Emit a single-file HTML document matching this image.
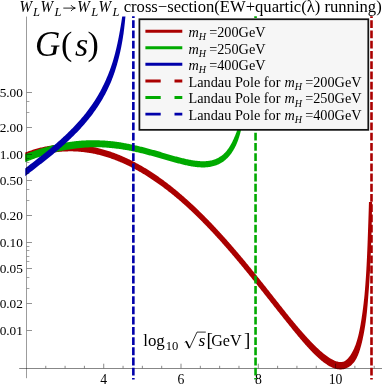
<!DOCTYPE html>
<html><head><meta charset="utf-8"><title>plot</title><style>
html,body{margin:0;padding:0;background:#fff;}
body{width:383px;height:388px;overflow:hidden;}
svg{display:block;}
</style></head><body>
<svg width="383" height="388" viewBox="0 0 383 388" style="position:absolute;left:0;top:0">
<rect width="383" height="388" fill="#fff"/>
<defs><filter id="gs" x="0" y="0" width="100%" height="100%" filterUnits="userSpaceOnUse" color-interpolation-filters="sRGB"><feColorMatrix type="saturate" values="0"/></filter><clipPath id="pc"><rect x="25.25" y="16.5" width="360" height="375"/></clipPath></defs>
<g clip-path="url(#pc)">
<path d="M19.54,162.86 L20.34,162.48 L21.14,162.12 L21.93,161.76 L22.73,161.41 L23.53,161.06 L24.34,160.71 L25.14,160.38 L25.95,160.04 L26.76,159.72 L27.57,159.40 L28.39,159.08 L29.20,158.77 L30.02,158.47 L30.84,158.17 L31.66,157.88 L32.49,157.59 L33.31,157.31 L34.14,157.04 L34.97,156.77 L35.80,156.51 L36.64,156.25 L37.47,156.00 L38.31,155.76 L39.15,155.52 L39.99,155.29 L40.83,155.07 L41.68,154.85 L42.52,154.64 L43.37,154.44 L44.22,154.24 L45.07,154.05 L45.92,153.86 L46.77,153.68 L47.63,153.51 L48.48,153.35 L49.34,153.19 L50.20,153.04 L51.06,152.89 L51.92,152.75 L52.78,152.62 L53.64,152.49 L54.50,152.38 L55.37,152.27 L56.23,152.16 L57.10,152.06 L57.97,151.97 L58.83,151.89 L59.70,151.81 L60.57,151.74 L61.44,151.68 L62.31,151.62 L63.18,151.57 L64.05,151.52 L64.92,151.48 L65.79,151.44 L66.66,151.41 L67.53,151.38 L68.41,151.36 L69.28,151.35 L70.15,151.34 L71.03,151.35 L71.90,151.35 L72.77,151.37 L73.65,151.39 L74.52,151.42 L75.39,151.45 L76.26,151.49 L77.14,151.54 L78.01,151.60 L78.88,151.66 L79.76,151.73 L80.63,151.80 L81.50,151.88 L82.37,151.97 L83.24,152.06 L84.11,152.16 L84.98,152.27 L85.85,152.38 L86.72,152.50 L87.59,152.63 L88.45,152.76 L89.32,152.90 L90.18,153.04 L91.05,153.19 L91.91,153.35 L92.78,153.51 L93.64,153.68 L94.50,153.86 L95.36,154.04 L96.22,154.24 L97.07,154.43 L97.93,154.64 L98.78,154.85 L99.63,155.06 L100.49,155.28 L101.34,155.51 L102.19,155.74 L103.03,155.98 L103.88,156.22 L104.72,156.47 L105.57,156.72 L106.41,156.98 L107.25,157.25 L108.09,157.52 L108.93,157.79 L109.76,158.07 L110.60,158.36 L111.43,158.65 L112.26,158.94 L113.09,159.24 L113.92,159.55 L114.75,159.86 L115.57,160.17 L116.40,160.49 L117.22,160.82 L118.04,161.15 L118.86,161.48 L119.68,161.82 L120.49,162.16 L121.30,162.51 L122.12,162.86 L122.93,163.22 L123.73,163.58 L124.54,163.94 L125.35,164.31 L126.15,164.68 L126.95,165.06 L127.75,165.44 L128.55,165.83 L129.34,166.22 L130.14,166.61 L130.93,167.01 L131.72,167.41 L132.51,167.82 L133.29,168.23 L134.08,168.64 L134.86,169.06 L135.64,169.49 L136.42,169.91 L137.19,170.34 L137.97,170.78 L138.74,171.21 L139.51,171.65 L140.28,172.10 L141.05,172.54 L141.81,173.00 L142.58,173.45 L143.34,173.91 L144.10,174.37 L144.86,174.83 L145.62,175.30 L146.37,175.77 L147.12,176.24 L147.87,176.72 L148.62,177.20 L149.37,177.68 L150.12,178.16 L150.86,178.65 L151.61,179.14 L152.35,179.63 L153.09,180.13 L153.82,180.63 L154.56,181.13 L155.29,181.63 L156.03,182.14 L156.76,182.65 L157.49,183.16 L158.21,183.68 L158.94,184.19 L159.66,184.71 L160.38,185.24 L161.11,185.76 L161.82,186.29 L162.54,186.82 L163.26,187.35 L163.97,187.89 L164.68,188.42 L165.39,188.96 L166.10,189.50 L166.81,190.05 L167.51,190.60 L168.22,191.14 L168.92,191.69 L169.62,192.25 L170.32,192.80 L171.02,193.36 L171.71,193.92 L172.41,194.48 L173.10,195.04 L173.79,195.61 L174.48,196.18 L175.17,196.75 L175.86,197.32 L176.54,197.89 L177.22,198.47 L177.91,199.04 L178.59,199.62 L179.27,200.20 L179.94,200.79 L180.62,201.37 L181.29,201.96 L181.97,202.55 L182.64,203.14 L183.31,203.73 L183.98,204.32 L184.64,204.92 L185.31,205.52 L185.97,206.12 L186.63,206.72 L187.29,207.33 L187.95,207.93 L188.61,208.54 L189.26,209.15 L189.92,209.76 L190.57,210.37 L191.22,210.98 L191.87,211.59 L192.52,212.21 L193.17,212.83 L193.82,213.45 L194.46,214.07 L195.11,214.69 L195.75,215.31 L196.39,215.93 L197.03,216.56 L197.67,217.19 L198.31,217.82 L198.95,218.45 L199.58,219.08 L200.22,219.71 L200.85,220.34 L201.48,220.98 L202.11,221.61 L202.74,222.25 L203.37,222.89 L204.00,223.53 L204.62,224.17 L205.25,224.81 L205.87,225.45 L206.50,226.10 L207.12,226.74 L207.74,227.39 L208.36,228.04 L208.98,228.68 L209.59,229.33 L210.21,229.98 L210.83,230.64 L211.44,231.29 L212.05,231.94 L212.67,232.60 L213.28,233.25 L213.89,233.91 L214.50,234.57 L215.10,235.23 L215.71,235.89 L216.32,236.55 L216.92,237.21 L217.52,237.88 L218.13,238.54 L218.73,239.20 L219.33,239.87 L219.93,240.54 L220.53,241.20 L221.13,241.87 L221.72,242.54 L222.32,243.21 L222.92,243.88 L223.51,244.55 L224.10,245.23 L224.70,245.90 L225.29,246.57 L225.88,247.25 L226.47,247.92 L227.06,248.60 L227.65,249.28 L228.24,249.96 L228.83,250.63 L229.41,251.31 L230.00,251.99 L230.58,252.67 L231.17,253.35 L231.75,254.04 L232.33,254.72 L232.92,255.40 L233.50,256.09 L234.08,256.77 L234.66,257.46 L235.24,258.14 L235.82,258.83 L236.40,259.52 L236.97,260.20 L237.55,260.89 L238.13,261.58 L238.70,262.27 L239.28,262.96 L239.85,263.65 L240.42,264.34 L241.00,265.03 L241.57,265.72 L242.14,266.42 L242.71,267.11 L243.28,267.80 L243.86,268.50 L244.42,269.19 L244.99,269.89 L245.56,270.58 L246.13,271.28 L246.70,271.97 L247.27,272.67 L247.83,273.37 L248.40,274.06 L248.97,274.76 L249.53,275.46 L250.10,276.16 L250.66,276.86 L251.23,277.56 L251.79,278.26 L252.35,278.96 L252.92,279.66 L253.48,280.36 L254.04,281.06 L254.60,281.76 L255.17,282.46 L255.73,283.17 L256.29,283.87 L256.85,284.57 L257.41,285.27 L257.97,285.98 L258.53,286.68 L259.09,287.38 L259.65,288.09 L260.21,288.79 L260.77,289.50 L261.33,290.20 L261.89,290.90 L262.45,291.61 L263.00,292.31 L263.56,293.02 L264.12,293.73 L264.68,294.43 L265.24,295.14 L265.79,295.84 L266.35,296.55 L266.91,297.25 L267.47,297.96 L268.02,298.67 L268.58,299.37 L269.14,300.08 L269.70,300.79 L270.26,301.49 L270.81,302.20 L271.37,302.91 L271.93,303.61 L272.49,304.32 L273.04,305.02 L273.60,305.73 L274.16,306.44 L274.72,307.14 L275.28,307.85 L275.84,308.56 L276.40,309.26 L276.96,309.97 L277.51,310.67 L278.07,311.38 L278.63,312.09 L279.20,312.79 L279.76,313.50 L280.32,314.20 L280.88,314.91 L281.44,315.61 L282.00,316.31 L282.57,317.02 L283.13,317.72 L283.69,318.42 L284.26,319.13 L284.82,319.83 L285.39,320.53 L285.95,321.23 L286.52,321.94 L287.09,322.64 L287.66,323.34 L288.22,324.04 L288.78,324.75 L289.34,325.45 L289.91,326.16 L290.47,326.86 L291.04,327.57 L291.60,328.27 L292.17,328.97 L292.74,329.68 L293.31,330.38 L293.88,331.08 L294.45,331.78 L295.02,332.48 L295.60,333.18 L296.17,333.87 L296.75,334.57 L297.32,335.27 L297.90,335.96 L298.49,336.66 L299.07,337.35 L299.65,338.04 L300.24,338.73 L300.83,339.42 L301.42,340.11 L302.01,340.80 L302.60,341.48 L303.20,342.17 L303.79,342.85 L304.39,343.53 L304.99,344.22 L305.59,344.90 L306.20,345.57 L306.81,346.25 L307.42,346.92 L308.03,347.60 L308.65,348.27 L309.27,348.94 L309.90,349.60 L310.52,350.26 L311.15,350.92 L311.79,351.58 L312.43,352.24 L313.07,352.89 L313.72,353.54 L314.37,354.19 L315.03,354.83 L315.70,355.47 L316.36,356.10 L317.04,356.73 L317.72,357.36 L318.41,357.98 L319.10,358.59 L319.80,359.21 L320.51,359.81 L321.23,360.41 L321.96,361.00 L322.69,361.58 L323.44,362.16 L324.20,362.73 L324.97,363.29 L325.75,363.84 L326.55,364.37 L327.36,364.90 L328.18,365.41 L329.03,365.90 L329.89,366.38 L330.77,366.84 L331.68,367.28 L332.61,367.69 L333.56,368.08 L334.55,368.42 L335.56,368.71 L336.61,368.96 L337.68,369.17 L338.78,369.31 L339.90,369.39 L341.05,369.40 L342.21,369.32 L343.37,369.15 L344.53,368.89 L345.67,368.54 L346.78,368.10 L347.84,367.58 L348.86,366.99 L349.82,366.34 L350.72,365.64 L351.57,364.90 L352.37,364.12 L353.11,363.32 L353.86,362.54 L354.49,361.67 L355.07,360.80 L355.62,359.92 L356.13,359.03 L356.61,358.13 L357.06,357.23 L357.48,356.32 L357.88,355.42 L358.26,354.51 L358.62,353.60 L358.95,352.69 L359.28,351.77 L359.58,350.86 L359.87,349.95 L360.15,349.03 L360.41,348.12 L360.67,347.20 L360.91,346.29 L361.16,345.38 L361.40,344.47 L361.64,343.56 L361.87,342.65 L362.09,341.74 L362.30,340.83 L362.50,339.92 L362.70,339.01 L362.89,338.10 L363.07,337.19 L363.26,336.29 L363.45,335.38 L363.63,334.47 L363.81,333.56 L363.98,332.66 L364.15,331.75 L364.31,330.84 L364.47,329.93 L364.63,329.02 L364.78,328.12 L364.93,327.21 L365.07,326.30 L365.21,325.39 L365.35,324.48 L365.48,323.57 L365.61,322.67 L365.74,321.76 L365.86,320.85 L365.99,319.94 L366.10,319.03 L366.22,318.12 L366.33,317.21 L366.44,316.30 L366.55,315.40 L366.65,314.49 L366.75,313.58 L366.85,312.67 L366.94,311.76 L367.03,310.85 L367.13,309.94 L367.21,309.03 L367.30,308.12 L367.39,307.21 L367.47,306.31 L367.55,305.40 L367.63,304.49 L367.71,303.58 L367.78,302.67 L367.86,301.76 L367.93,300.85 L368.00,299.94 L368.07,299.04 L368.14,298.13 L368.21,297.22 L368.27,296.31 L368.35,295.40 L368.42,294.50 L368.49,293.59 L368.56,292.68 L368.63,291.77 L368.70,290.87 L368.77,289.96 L368.84,289.05 L368.90,288.14 L368.97,287.24 L369.03,286.33 L369.09,285.42 L369.15,284.51 L369.21,283.61 L369.27,282.70 L369.33,281.79 L369.39,280.89 L369.44,279.98 L369.50,279.07 L369.55,278.16 L369.61,277.26 L369.66,276.35 L369.71,275.44 L369.76,274.54 L369.81,273.63 L369.86,272.72 L369.91,271.81 L369.96,270.91 L370.01,270.00 L370.06,269.09 L370.11,268.19 L370.15,267.28 L370.20,266.37 L370.25,265.47 L370.29,264.56 L370.33,263.65 L370.38,262.75 L370.42,261.84 L370.46,260.93 L370.51,260.03 L370.55,259.12 L370.59,258.21 L370.63,257.31 L370.67,256.40 L370.71,255.49 L370.75,254.59 L370.78,253.68 L370.82,252.77 L370.86,251.87 L370.89,250.96 L370.93,250.05 L370.97,249.15 L371.00,248.24 L371.03,247.34 L371.07,246.43 L371.10,245.52 L371.13,244.62 L371.17,243.71 L371.20,242.80 L371.23,241.90 L371.26,240.99 L371.29,240.09 L371.32,239.18 L371.35,238.27 L371.38,237.37 L371.41,236.46 L371.44,235.56 L371.47,234.65 L371.50,233.74 L371.52,232.84 L371.55,231.93 L371.57,231.03 L371.59,230.12 L371.61,229.21 L371.63,228.31 L371.65,227.40 L371.67,226.50 L371.69,225.59 L371.71,224.68 L371.73,223.78 L371.75,222.87 L371.77,221.97 L371.79,221.06 L371.80,220.16 L371.82,219.25 L371.84,218.34 L371.85,217.44 L371.87,216.53 L371.89,215.63 L371.90,214.72 L371.92,213.82 L371.93,212.91 L371.95,212.01 L371.96,211.10 L371.98,210.20 L371.99,209.29 L372.01,208.39 L372.02,207.48 L372.04,206.58 L372.05,205.67 L372.06,204.77 L372.08,203.86 L372.09,202.96 L372.10,202.06 L368.96,201.99 L368.93,202.89 L368.91,203.79 L368.88,204.70 L368.85,205.60 L368.83,206.51 L368.80,207.41 L368.77,208.31 L368.74,209.22 L368.72,210.12 L368.69,211.02 L368.66,211.93 L368.63,212.83 L368.60,213.74 L368.57,214.64 L368.54,215.54 L368.51,216.45 L368.48,217.35 L368.45,218.26 L368.42,219.16 L368.39,220.06 L368.36,220.97 L368.33,221.87 L368.30,222.78 L368.27,223.68 L368.23,224.59 L368.20,225.49 L368.17,226.39 L368.14,227.30 L368.10,228.20 L368.07,229.11 L368.04,230.01 L368.00,230.92 L367.97,231.82 L367.94,232.72 L367.91,233.63 L367.88,234.53 L367.85,235.44 L367.82,236.34 L367.78,237.25 L367.75,238.15 L367.72,239.06 L367.69,239.96 L367.66,240.86 L367.62,241.77 L367.59,242.67 L367.55,243.58 L367.52,244.48 L367.49,245.39 L367.45,246.29 L367.41,247.20 L367.38,248.10 L367.34,249.00 L367.30,249.91 L367.27,250.81 L367.23,251.72 L367.19,252.62 L367.15,253.53 L367.11,254.43 L367.07,255.33 L367.03,256.24 L366.99,257.14 L366.94,258.05 L366.90,258.95 L366.86,259.86 L366.81,260.76 L366.77,261.66 L366.72,262.57 L366.68,263.47 L366.63,264.38 L366.59,265.28 L366.54,266.18 L366.49,267.09 L366.44,267.99 L366.39,268.89 L366.34,269.80 L366.29,270.70 L366.24,271.61 L366.18,272.51 L366.13,273.41 L366.07,274.32 L366.01,275.22 L365.95,276.12 L365.89,277.03 L365.83,277.93 L365.77,278.83 L365.71,279.74 L365.65,280.64 L365.58,281.54 L365.52,282.44 L365.45,283.35 L365.39,284.25 L365.32,285.15 L365.25,286.05 L365.18,286.96 L365.11,287.86 L365.04,288.76 L364.97,289.66 L364.89,290.56 L364.82,291.47 L364.74,292.37 L364.66,293.27 L364.58,294.17 L364.50,295.07 L364.42,295.97 L364.33,296.87 L364.23,297.77 L364.13,298.67 L364.03,299.57 L363.93,300.47 L363.83,301.37 L363.73,302.27 L363.63,303.17 L363.52,304.07 L363.41,304.96 L363.30,305.86 L363.19,306.76 L363.08,307.66 L362.96,308.55 L362.85,309.45 L362.73,310.35 L362.61,311.24 L362.49,312.14 L362.36,313.03 L362.23,313.93 L362.11,314.82 L361.97,315.71 L361.84,316.61 L361.71,317.50 L361.58,318.39 L361.44,319.29 L361.30,320.18 L361.16,321.07 L361.01,321.96 L360.86,322.85 L360.71,323.74 L360.56,324.63 L360.40,325.51 L360.24,326.40 L360.07,327.29 L359.91,328.17 L359.73,329.06 L359.56,329.94 L359.38,330.82 L359.19,331.70 L359.01,332.58 L358.81,333.46 L358.62,334.33 L358.41,335.21 L358.19,336.08 L357.97,336.95 L357.73,337.81 L357.49,338.67 L357.25,339.53 L357.00,340.39 L356.74,341.25 L356.48,342.10 L356.20,342.94 L355.92,343.79 L355.64,344.63 L355.32,345.46 L354.99,346.28 L354.66,347.09 L354.32,347.90 L353.96,348.71 L353.60,349.50 L353.23,350.29 L352.84,351.06 L352.44,351.83 L352.04,352.58 L351.62,353.32 L351.18,354.05 L350.74,354.75 L350.28,355.44 L349.80,356.11 L349.31,356.75 L348.81,357.37 L348.30,357.96 L347.84,358.57 L347.32,359.11 L346.78,359.62 L346.23,360.07 L345.67,360.49 L345.10,360.85 L344.51,361.16 L343.92,361.43 L343.33,361.64 L342.72,361.81 L342.10,361.93 L341.48,362.00 L340.84,362.04 L340.19,362.04 L339.52,361.99 L338.84,361.90 L338.16,361.77 L337.46,361.60 L336.76,361.40 L336.05,361.16 L335.34,360.91 L334.62,360.63 L333.90,360.32 L333.18,359.98 L332.47,359.62 L331.75,359.24 L331.04,358.84 L330.33,358.42 L329.63,357.98 L328.93,357.53 L328.23,357.06 L327.54,356.58 L326.85,356.09 L326.16,355.58 L325.48,355.07 L324.80,354.54 L324.13,354.01 L323.46,353.47 L322.79,352.91 L322.13,352.36 L321.47,351.79 L320.81,351.22 L320.16,350.64 L319.51,350.06 L318.86,349.47 L318.22,348.87 L317.58,348.27 L316.94,347.66 L316.31,347.06 L315.68,346.44 L315.05,345.82 L314.42,345.20 L313.80,344.58 L313.17,343.95 L312.55,343.32 L311.94,342.68 L311.32,342.05 L310.71,341.41 L310.09,340.76 L309.48,340.12 L308.88,339.47 L308.27,338.82 L307.67,338.17 L307.06,337.51 L306.46,336.85 L305.87,336.19 L305.27,335.53 L304.68,334.86 L304.08,334.20 L303.49,333.53 L302.90,332.86 L302.31,332.19 L301.72,331.52 L301.14,330.85 L300.55,330.17 L299.96,329.49 L299.38,328.82 L298.80,328.14 L298.22,327.46 L297.63,326.78 L297.05,326.10 L296.47,325.41 L295.90,324.73 L295.32,324.04 L294.74,323.36 L294.17,322.67 L293.59,321.99 L293.02,321.30 L292.44,320.61 L291.87,319.92 L291.31,319.22 L290.74,318.52 L290.18,317.83 L289.61,317.13 L289.05,316.43 L288.49,315.73 L287.93,315.03 L287.37,314.33 L286.80,313.63 L286.24,312.93 L285.68,312.22 L285.12,311.52 L284.56,310.82 L284.00,310.12 L283.44,309.41 L282.89,308.71 L282.33,308.01 L281.77,307.30 L281.21,306.60 L280.65,305.89 L280.09,305.19 L279.53,304.48 L278.98,303.78 L278.42,303.07 L277.86,302.37 L277.30,301.66 L276.75,300.95 L276.19,300.25 L275.63,299.54 L275.07,298.84 L274.52,298.13 L273.96,297.42 L273.40,296.72 L272.84,296.01 L272.28,295.30 L271.73,294.60 L271.17,293.89 L270.61,293.18 L270.05,292.48 L269.49,291.77 L268.94,291.06 L268.38,290.36 L267.82,289.65 L267.26,288.95 L266.70,288.24 L266.14,287.53 L265.58,286.83 L265.02,286.12 L264.46,285.42 L263.90,284.71 L263.34,284.00 L262.78,283.30 L262.22,282.59 L261.65,281.89 L261.09,281.18 L260.53,280.48 L259.97,279.78 L259.40,279.07 L258.84,278.37 L258.28,277.66 L257.71,276.96 L257.15,276.26 L256.58,275.55 L256.02,274.85 L255.45,274.15 L254.88,273.45 L254.32,272.75 L253.75,272.05 L253.18,271.34 L252.61,270.64 L252.05,269.94 L251.48,269.24 L250.91,268.54 L250.34,267.84 L249.77,267.15 L249.19,266.45 L248.62,265.75 L248.05,265.05 L247.48,264.35 L246.90,263.66 L246.33,262.96 L245.75,262.26 L245.18,261.57 L244.60,260.87 L244.03,260.18 L243.45,259.49 L242.87,258.79 L242.29,258.10 L241.71,257.41 L241.13,256.71 L240.55,256.02 L239.97,255.33 L239.39,254.64 L238.80,253.95 L238.22,253.26 L237.64,252.57 L237.05,251.88 L236.46,251.20 L235.88,250.51 L235.29,249.82 L234.70,249.14 L234.11,248.45 L233.52,247.77 L232.93,247.08 L232.34,246.40 L231.75,245.72 L231.15,245.04 L230.56,244.35 L229.97,243.67 L229.37,242.99 L228.77,242.31 L228.18,241.64 L227.58,240.96 L226.98,240.28 L226.38,239.61 L225.78,238.93 L225.17,238.26 L224.57,237.58 L223.97,236.91 L223.36,236.24 L222.75,235.56 L222.15,234.89 L221.54,234.22 L220.93,233.55 L220.32,232.89 L219.71,232.22 L219.10,231.55 L218.48,230.89 L217.87,230.22 L217.25,229.56 L216.64,228.90 L216.02,228.23 L215.40,227.57 L214.78,226.91 L214.16,226.25 L213.54,225.59 L212.92,224.94 L212.30,224.28 L211.67,223.62 L211.05,222.97 L210.42,222.32 L209.79,221.66 L209.16,221.01 L208.53,220.36 L207.90,219.71 L207.27,219.07 L206.63,218.42 L206.00,217.77 L205.36,217.13 L204.72,216.49 L204.08,215.84 L203.44,215.20 L202.80,214.56 L202.16,213.92 L201.51,213.29 L200.87,212.65 L200.22,212.02 L199.57,211.38 L198.92,210.75 L198.27,210.12 L197.62,209.49 L196.96,208.86 L196.31,208.23 L195.65,207.61 L194.99,206.98 L194.34,206.36 L193.67,205.74 L193.01,205.12 L192.35,204.50 L191.68,203.89 L191.02,203.27 L190.35,202.66 L189.68,202.04 L189.01,201.43 L188.33,200.82 L187.66,200.22 L186.98,199.61 L186.31,199.00 L185.63,198.40 L184.95,197.80 L184.27,197.20 L183.59,196.60 L182.90,196.00 L182.22,195.40 L181.53,194.81 L180.84,194.22 L180.15,193.63 L179.46,193.04 L178.77,192.45 L178.07,191.86 L177.37,191.28 L176.67,190.70 L175.97,190.12 L175.27,189.54 L174.57,188.97 L173.86,188.39 L173.15,187.82 L172.44,187.25 L171.73,186.69 L171.02,186.12 L170.31,185.56 L169.59,185.00 L168.87,184.44 L168.15,183.88 L167.43,183.33 L166.70,182.77 L165.98,182.22 L165.25,181.68 L164.52,181.13 L163.79,180.59 L163.06,180.05 L162.32,179.51 L161.58,178.98 L160.84,178.44 L160.10,177.91 L159.36,177.39 L158.62,176.86 L157.87,176.34 L157.12,175.82 L156.37,175.30 L155.61,174.79 L154.86,174.27 L154.10,173.77 L153.34,173.26 L152.58,172.76 L151.82,172.26 L151.05,171.76 L150.28,171.27 L149.51,170.78 L148.74,170.29 L147.97,169.81 L147.19,169.32 L146.41,168.85 L145.63,168.37 L144.85,167.90 L144.06,167.43 L143.28,166.97 L142.49,166.51 L141.70,166.05 L140.90,165.60 L140.11,165.14 L139.31,164.70 L138.51,164.25 L137.71,163.81 L136.90,163.38 L136.10,162.94 L135.29,162.51 L134.48,162.09 L133.67,161.66 L132.85,161.24 L132.04,160.83 L131.22,160.41 L130.40,160.01 L129.58,159.60 L128.75,159.20 L127.92,158.81 L127.09,158.42 L126.26,158.03 L125.43,157.65 L124.59,157.27 L123.76,156.90 L122.92,156.53 L122.07,156.16 L121.23,155.80 L120.38,155.45 L119.53,155.10 L118.68,154.75 L117.83,154.41 L116.98,154.07 L116.12,153.74 L115.26,153.41 L114.40,153.09 L113.54,152.77 L112.67,152.46 L111.80,152.15 L110.93,151.85 L110.06,151.56 L109.19,151.26 L108.32,150.98 L107.44,150.70 L106.56,150.42 L105.68,150.15 L104.80,149.89 L103.91,149.63 L103.03,149.38 L102.14,149.13 L101.25,148.89 L100.36,148.66 L99.46,148.43 L98.57,148.20 L97.67,147.99 L96.78,147.77 L95.88,147.57 L94.98,147.36 L94.07,147.17 L93.17,146.97 L92.27,146.79 L91.36,146.61 L90.45,146.44 L89.54,146.27 L88.63,146.11 L87.72,145.95 L86.81,145.81 L85.90,145.67 L84.98,145.53 L84.06,145.40 L83.15,145.28 L82.23,145.17 L81.31,145.06 L80.39,144.96 L79.47,144.87 L78.55,144.78 L77.62,144.70 L76.70,144.63 L75.78,144.56 L74.85,144.50 L73.93,144.45 L73.00,144.41 L72.07,144.37 L71.15,144.34 L70.22,144.32 L69.29,144.30 L68.37,144.29 L67.44,144.29 L66.51,144.29 L65.58,144.31 L64.66,144.33 L63.73,144.36 L62.80,144.40 L61.88,144.45 L60.95,144.51 L60.02,144.58 L59.10,144.65 L58.17,144.73 L57.25,144.82 L56.33,144.91 L55.41,145.01 L54.48,145.12 L53.56,145.24 L52.64,145.36 L51.73,145.49 L50.81,145.63 L49.89,145.78 L48.98,145.93 L48.06,146.09 L47.15,146.26 L46.24,146.43 L45.33,146.61 L44.42,146.80 L43.52,146.99 L42.61,147.19 L41.71,147.40 L40.81,147.62 L39.91,147.84 L39.01,148.07 L38.11,148.31 L37.22,148.55 L36.33,148.80 L35.44,149.05 L34.55,149.32 L33.66,149.59 L32.78,149.86 L31.90,150.14 L31.02,150.43 L30.14,150.73 L29.27,151.03 L28.40,151.34 L27.53,151.65 L26.66,151.97 L25.79,152.30 L24.93,152.63 L24.07,152.97 L23.21,153.31 L22.36,153.66 L21.51,154.02 L20.66,154.38 L19.81,154.75 L18.96,155.13 L18.12,155.51 L17.28,155.89 L16.46,156.28Z" fill="#aa0000"/>
<path d="M19.44,164.53 L20.26,164.18 L21.08,163.84 L21.90,163.49 L22.72,163.15 L23.54,162.81 L24.36,162.48 L25.19,162.14 L26.01,161.81 L26.84,161.49 L27.66,161.16 L28.49,160.84 L29.32,160.52 L30.14,160.20 L30.97,159.89 L31.80,159.58 L32.64,159.27 L33.47,158.96 L34.30,158.66 L35.13,158.36 L35.97,158.06 L36.80,157.77 L37.64,157.48 L38.48,157.20 L39.32,156.91 L40.16,156.63 L41.00,156.36 L41.84,156.09 L42.68,155.82 L43.52,155.55 L44.37,155.29 L45.21,155.03 L46.06,154.78 L46.91,154.53 L47.76,154.28 L48.60,154.03 L49.45,153.79 L50.30,153.56 L51.16,153.33 L52.01,153.10 L52.86,152.88 L53.72,152.66 L54.57,152.44 L55.43,152.23 L56.29,152.02 L57.14,151.82 L58.00,151.62 L58.86,151.42 L59.72,151.23 L60.58,151.05 L61.45,150.86 L62.31,150.69 L63.17,150.51 L64.04,150.34 L64.90,150.18 L65.77,150.02 L66.63,149.86 L67.50,149.71 L68.37,149.57 L69.24,149.43 L70.11,149.29 L70.98,149.16 L71.85,149.03 L72.72,148.91 L73.59,148.79 L74.46,148.68 L75.34,148.57 L76.21,148.46 L77.08,148.36 L77.96,148.25 L78.83,148.16 L79.70,148.06 L80.58,147.98 L81.45,147.89 L82.33,147.81 L83.21,147.74 L84.08,147.67 L84.96,147.61 L85.84,147.55 L86.72,147.49 L87.60,147.45 L88.47,147.40 L89.35,147.36 L90.23,147.33 L91.11,147.30 L91.99,147.27 L92.87,147.25 L93.75,147.24 L94.63,147.23 L95.51,147.23 L96.40,147.23 L97.28,147.24 L98.16,147.26 L99.04,147.28 L99.92,147.30 L100.80,147.33 L101.68,147.37 L102.56,147.40 L103.44,147.45 L104.32,147.50 L105.20,147.55 L106.08,147.61 L106.96,147.67 L107.84,147.74 L108.72,147.81 L109.60,147.88 L110.48,147.96 L111.36,148.05 L112.24,148.14 L113.12,148.23 L113.99,148.33 L114.87,148.43 L115.75,148.54 L116.63,148.64 L117.50,148.75 L118.38,148.87 L119.26,148.98 L120.13,149.10 L121.01,149.23 L121.89,149.36 L122.76,149.49 L123.64,149.63 L124.51,149.77 L125.39,149.91 L126.26,150.06 L127.14,150.21 L128.01,150.37 L128.88,150.53 L129.75,150.69 L130.63,150.86 L131.50,151.03 L132.37,151.20 L133.24,151.38 L134.11,151.56 L134.98,151.74 L135.85,151.94 L136.72,152.13 L137.59,152.33 L138.45,152.53 L139.32,152.74 L140.19,152.95 L141.05,153.16 L141.92,153.37 L142.78,153.58 L143.65,153.80 L144.51,154.02 L145.38,154.24 L146.24,154.47 L147.11,154.69 L147.97,154.92 L148.83,155.15 L149.70,155.38 L150.56,155.62 L151.42,155.85 L152.29,156.09 L153.15,156.33 L154.01,156.57 L154.88,156.81 L155.74,157.05 L156.60,157.30 L157.47,157.54 L158.33,157.78 L159.19,158.03 L160.06,158.28 L160.92,158.52 L161.79,158.77 L162.65,159.02 L163.52,159.27 L164.38,159.52 L165.25,159.76 L166.11,160.01 L166.98,160.26 L167.85,160.51 L168.72,160.75 L169.59,161.00 L170.46,161.24 L171.33,161.48 L172.20,161.73 L173.08,161.97 L173.95,162.21 L174.82,162.45 L175.70,162.69 L176.58,162.93 L177.45,163.16 L178.33,163.39 L179.22,163.62 L180.10,163.85 L180.98,164.08 L181.87,164.30 L182.76,164.51 L183.65,164.72 L184.54,164.93 L185.44,165.13 L186.33,165.33 L187.23,165.52 L188.14,165.71 L189.04,165.89 L189.95,166.06 L190.86,166.22 L191.77,166.38 L192.69,166.53 L193.61,166.67 L194.53,166.80 L195.46,166.92 L196.39,167.03 L197.32,167.13 L198.26,167.22 L199.20,167.29 L200.15,167.35 L201.09,167.40 L202.05,167.43 L203.00,167.43 L203.96,167.42 L204.92,167.39 L205.88,167.34 L206.84,167.27 L207.81,167.18 L208.78,167.07 L209.74,166.93 L210.71,166.77 L211.68,166.58 L212.64,166.36 L213.60,166.12 L214.55,165.85 L215.50,165.55 L216.45,165.22 L217.38,164.86 L218.30,164.47 L219.22,164.05 L220.12,163.59 L221.00,163.11 L221.87,162.60 L222.72,162.06 L223.55,161.50 L224.29,160.81 L225.08,160.19 L225.84,159.54 L226.58,158.87 L227.29,158.18 L227.99,157.46 L228.65,156.73 L229.30,155.99 L229.92,155.23 L230.53,154.46 L231.11,153.67 L231.68,152.88 L232.23,152.08 L232.76,151.27 L233.27,150.45 L233.76,149.62 L234.24,148.79 L234.69,147.94 L235.14,147.10 L235.57,146.24 L235.97,145.38 L236.36,144.52 L236.73,143.64 L237.09,142.77 L237.44,141.89 L237.78,141.01 L238.10,140.13 L238.42,139.25 L238.72,138.36 L239.01,137.47 L239.29,136.58 L239.55,135.68 L239.81,134.79 L240.06,133.89 L240.30,132.99 L240.53,132.09 L240.76,131.20 L241.01,130.30 L241.24,129.41 L241.47,128.52 L241.70,127.62 L241.92,126.72 L242.13,125.83 L242.33,124.93 L242.53,124.03 L242.73,123.13 L242.92,122.23 L243.11,121.33 L243.29,120.43 L243.46,119.53 L243.64,118.63 L243.82,117.73 L244.00,116.83 L244.17,115.93 L244.35,115.03 L244.52,114.13 L244.68,113.23 L244.85,112.33 L245.01,111.43 L245.16,110.52 L245.32,109.62 L245.47,108.72 L245.61,107.82 L245.76,106.92 L245.90,106.01 L246.04,105.11 L246.17,104.21 L246.30,103.30 L246.43,102.40 L246.56,101.49 L246.69,100.59 L243.51,100.15 L243.39,101.05 L243.26,101.95 L243.13,102.84 L243.00,103.74 L242.87,104.63 L242.73,105.52 L242.59,106.42 L242.45,107.31 L242.30,108.20 L242.16,109.09 L242.00,109.98 L241.85,110.87 L241.69,111.76 L241.53,112.65 L241.37,113.54 L241.20,114.43 L241.03,115.31 L240.85,116.20 L240.68,117.09 L240.49,117.97 L240.28,118.85 L240.07,119.73 L239.86,120.60 L239.64,121.48 L239.42,122.35 L239.20,123.22 L238.96,124.09 L238.73,124.96 L238.49,125.83 L238.24,126.70 L237.99,127.56 L237.73,128.42 L237.46,129.28 L237.19,130.13 L236.90,130.98 L236.59,131.83 L236.28,132.66 L235.95,133.50 L235.63,134.33 L235.29,135.16 L234.95,135.98 L234.60,136.80 L234.25,137.62 L233.89,138.44 L233.53,139.24 L233.15,140.05 L232.77,140.84 L232.37,141.63 L231.97,142.41 L231.56,143.19 L231.13,143.96 L230.71,144.72 L230.28,145.48 L229.83,146.22 L229.37,146.96 L228.90,147.69 L228.42,148.40 L227.93,149.10 L227.42,149.79 L226.90,150.47 L226.36,151.13 L225.81,151.77 L225.24,152.39 L224.65,153.00 L224.06,153.59 L223.45,154.15 L222.82,154.70 L222.19,155.23 L221.54,155.74 L220.89,156.24 L220.15,156.61 L219.47,157.06 L218.78,157.49 L218.08,157.89 L217.37,158.26 L216.64,158.62 L215.90,158.95 L215.15,159.25 L214.39,159.53 L213.62,159.79 L212.85,160.03 L212.06,160.24 L211.27,160.43 L210.47,160.59 L209.66,160.74 L208.84,160.87 L208.02,160.97 L207.20,161.06 L206.37,161.12 L205.54,161.17 L204.70,161.20 L203.86,161.22 L203.02,161.22 L202.17,161.20 L201.33,161.18 L200.48,161.14 L199.62,161.09 L198.77,161.03 L197.92,160.96 L197.06,160.87 L196.20,160.78 L195.35,160.67 L194.49,160.56 L193.63,160.43 L192.77,160.30 L191.91,160.16 L191.05,160.01 L190.19,159.85 L189.33,159.69 L188.47,159.51 L187.61,159.34 L186.75,159.15 L185.89,158.97 L185.03,158.77 L184.17,158.57 L183.30,158.37 L182.44,158.16 L181.58,157.95 L180.72,157.74 L179.86,157.52 L179.00,157.29 L178.14,157.07 L177.28,156.84 L176.42,156.61 L175.56,156.38 L174.70,156.13 L173.84,155.89 L172.98,155.65 L172.11,155.40 L171.25,155.15 L170.39,154.90 L169.53,154.65 L168.67,154.40 L167.81,154.15 L166.95,153.90 L166.08,153.64 L165.22,153.39 L164.36,153.14 L163.49,152.88 L162.63,152.63 L161.76,152.38 L160.90,152.12 L160.03,151.87 L159.17,151.62 L158.30,151.37 L157.43,151.11 L156.56,150.86 L155.69,150.62 L154.82,150.37 L153.95,150.12 L153.08,149.88 L152.21,149.63 L151.34,149.39 L150.46,149.15 L149.59,148.91 L148.71,148.67 L147.84,148.43 L146.96,148.20 L146.08,147.97 L145.20,147.74 L144.32,147.51 L143.44,147.29 L142.56,147.06 L141.68,146.84 L140.80,146.63 L139.91,146.41 L139.03,146.20 L138.14,145.99 L137.25,145.78 L136.36,145.58 L135.48,145.38 L134.59,145.17 L133.70,144.97 L132.81,144.77 L131.92,144.57 L131.02,144.38 L130.13,144.19 L129.24,144.01 L128.34,143.83 L127.45,143.65 L126.55,143.47 L125.65,143.30 L124.75,143.13 L123.85,142.97 L122.95,142.81 L122.05,142.66 L121.14,142.51 L120.24,142.36 L119.34,142.22 L118.43,142.08 L117.52,141.94 L116.62,141.81 L115.71,141.69 L114.80,141.58 L113.89,141.47 L112.98,141.36 L112.06,141.26 L111.15,141.16 L110.24,141.07 L109.32,140.98 L108.41,140.90 L107.50,140.82 L106.58,140.75 L105.66,140.68 L104.75,140.62 L103.83,140.56 L102.91,140.51 L102.00,140.46 L101.08,140.42 L100.16,140.38 L99.24,140.34 L98.32,140.31 L97.41,140.29 L96.49,140.27 L95.57,140.26 L94.65,140.25 L93.73,140.24 L92.81,140.24 L91.89,140.24 L90.97,140.25 L90.05,140.26 L89.13,140.28 L88.21,140.30 L87.29,140.33 L86.37,140.36 L85.45,140.40 L84.53,140.44 L83.61,140.49 L82.70,140.55 L81.78,140.61 L80.86,140.67 L79.94,140.74 L79.03,140.81 L78.11,140.89 L77.19,140.98 L76.28,141.07 L75.36,141.16 L74.45,141.27 L73.54,141.39 L72.62,141.51 L71.71,141.63 L70.80,141.76 L69.89,141.89 L68.98,142.03 L68.08,142.17 L67.17,142.32 L66.26,142.47 L65.36,142.63 L64.45,142.79 L63.55,142.96 L62.65,143.13 L61.74,143.31 L60.84,143.49 L59.95,143.67 L59.05,143.86 L58.15,144.06 L57.25,144.25 L56.36,144.46 L55.47,144.66 L54.57,144.88 L53.68,145.09 L52.79,145.31 L51.90,145.54 L51.01,145.76 L50.13,146.00 L49.24,146.23 L48.36,146.47 L47.48,146.72 L46.59,146.97 L45.71,147.22 L44.84,147.48 L43.96,147.74 L43.08,148.00 L42.21,148.27 L41.33,148.54 L40.46,148.81 L39.59,149.09 L38.72,149.37 L37.85,149.66 L36.98,149.95 L36.12,150.24 L35.25,150.53 L34.39,150.83 L33.53,151.14 L32.67,151.44 L31.81,151.75 L30.95,152.06 L30.09,152.37 L29.24,152.69 L28.38,153.01 L27.53,153.33 L26.68,153.66 L25.83,153.99 L24.98,154.32 L24.13,154.65 L23.28,154.99 L22.44,155.33 L21.59,155.67 L20.75,156.02 L19.91,156.37 L19.07,156.71 L18.23,157.07 L17.39,157.42 L16.56,157.78Z" fill="#00aa00"/>
<path d="M19.73,179.80 L20.66,179.17 L21.59,178.54 L22.53,177.90 L23.46,177.26 L24.39,176.62 L25.33,175.97 L26.30,175.30 L27.31,174.55 L28.27,173.78 L29.20,173.05 L30.12,172.33 L31.05,171.60 L31.97,170.88 L32.90,170.16 L33.83,169.43 L34.76,168.71 L35.68,167.99 L36.61,167.27 L37.54,166.54 L38.47,165.82 L39.40,165.09 L40.34,164.37 L41.27,163.64 L42.20,162.91 L43.13,162.17 L44.06,161.44 L45.00,160.70 L45.93,159.96 L46.87,159.21 L47.80,158.46 L48.73,157.71 L49.67,156.95 L50.60,156.19 L51.54,155.43 L52.47,154.66 L53.41,153.89 L54.35,153.11 L55.28,152.33 L56.22,151.54 L57.16,150.74 L58.09,149.94 L59.03,149.14 L59.97,148.33 L60.90,147.51 L61.84,146.68 L62.78,145.85 L63.72,145.02 L64.66,144.17 L65.60,143.32 L66.53,142.46 L67.47,141.59 L68.41,140.71 L69.35,139.83 L70.29,138.93 L71.23,138.03 L72.17,137.12 L73.11,136.19 L74.05,135.26 L74.99,134.32 L75.94,133.36 L76.88,132.39 L77.82,131.41 L78.76,130.42 L79.70,129.42 L80.64,128.40 L81.58,127.36 L82.52,126.32 L83.46,125.26 L84.40,124.18 L85.34,123.08 L86.28,121.97 L87.22,120.84 L88.16,119.69 L89.10,118.53 L90.04,117.34 L90.99,116.13 L91.93,114.90 L92.87,113.64 L93.81,112.36 L94.75,111.05 L95.70,109.72 L96.64,108.35 L97.58,106.96 L98.52,105.52 L99.46,104.06 L100.40,102.56 L101.34,101.01 L102.28,99.43 L103.21,97.80 L104.15,96.12 L105.09,94.39 L106.03,92.61 L106.96,90.76 L107.89,88.85 L108.82,86.86 L109.74,84.80 L110.67,82.66 L111.59,80.42 L112.49,78.10 L112.58,77.88 L112.66,77.67 L112.74,77.46 L112.82,77.25 L112.90,77.04 L112.97,76.83 L113.05,76.62 L113.13,76.40 L113.21,76.19 L113.29,75.97 L113.37,75.76 L113.45,75.54 L113.53,75.32 L113.60,75.10 L113.68,74.88 L113.76,74.66 L113.84,74.44 L113.92,74.22 L114.00,74.00 L114.08,73.77 L114.16,73.55 L114.23,73.32 L114.31,73.09 L114.39,72.86 L114.47,72.64 L114.55,72.41 L114.63,72.17 L114.70,71.94 L114.78,71.71 L114.86,71.47 L114.94,71.24 L115.02,71.00 L115.09,70.76 L115.17,70.52 L115.25,70.28 L115.33,70.04 L115.40,69.80 L115.48,69.55 L115.56,69.31 L115.64,69.06 L115.71,68.81 L115.79,68.56 L115.87,68.31 L115.95,68.06 L116.02,67.81 L116.10,67.56 L116.18,67.30 L116.25,67.05 L116.33,66.79 L116.41,66.53 L116.49,66.27 L116.56,66.01 L116.64,65.74 L116.72,65.48 L116.79,65.21 L116.87,64.95 L116.95,64.68 L117.02,64.41 L117.10,64.14 L117.18,63.86 L117.26,63.59 L117.33,63.31 L117.41,63.04 L117.49,62.76 L117.56,62.48 L117.64,62.20 L117.72,61.91 L117.79,61.63 L117.87,61.34 L117.94,61.05 L118.02,60.76 L118.10,60.47 L118.18,60.18 L118.26,59.88 L118.33,59.58 L118.41,59.29 L118.49,58.99 L118.57,58.68 L118.65,58.38 L118.73,58.08 L118.81,57.77 L118.88,57.46 L118.96,57.15 L119.04,56.83 L119.12,56.52 L119.20,56.20 L119.28,55.88 L119.35,55.56 L119.43,55.24 L119.51,54.91 L119.59,54.58 L119.67,54.25 L119.74,53.92 L119.82,53.59 L119.90,53.25 L119.98,52.91 L120.06,52.57 L120.13,52.23 L120.21,51.88 L120.29,51.53 L120.37,51.18 L120.45,50.83 L120.52,50.47 L120.60,50.11 L120.68,49.75 L120.75,49.39 L120.83,49.02 L120.90,48.65 L120.98,48.28 L121.06,47.90 L121.13,47.53 L121.21,47.15 L121.28,46.76 L121.36,46.38 L121.43,45.99 L121.51,45.59 L121.58,45.20 L121.66,44.80 L121.74,44.40 L121.81,43.99 L121.89,43.58 L121.96,43.17 L122.04,42.75 L122.11,42.34 L122.19,41.91 L122.26,41.49 L122.34,41.06 L122.41,40.63 L122.49,40.19 L122.56,39.75 L122.64,39.30 L122.71,38.85 L122.78,38.40 L122.86,37.94 L122.93,37.48 L123.01,37.02 L123.08,36.55 L123.16,36.08 L123.23,35.60 L123.30,35.11 L123.38,34.63 L123.45,34.14 L123.53,33.64 L123.60,33.14 L123.66,32.63 L123.73,32.12 L123.80,31.60 L123.86,31.08 L123.93,30.55 L124.00,30.01 L124.06,29.47 L124.13,28.93 L124.20,28.38 L124.26,27.82 L124.33,27.26 L124.39,26.69 L124.46,26.11 L124.52,25.53 L124.59,24.94 L124.65,24.35 L124.72,23.75 L124.78,23.14 L124.85,22.52 L124.91,21.90 L124.97,21.27 L125.04,20.63 L125.10,19.99 L125.16,19.34 L125.22,18.67 L125.29,18.00 L125.35,17.33 L125.41,16.64 L125.48,15.95 L125.55,15.24 L125.62,14.53 L125.69,13.81 L125.76,13.07 L125.82,12.33 L125.89,11.58 L125.96,10.82 L126.03,10.04 L126.09,9.26 L126.16,8.46 L123.27,8.17 L123.17,8.96 L123.08,9.74 L122.98,10.50 L122.89,11.26 L122.80,12.00 L122.71,12.74 L122.61,13.46 L122.52,14.18 L122.43,14.89 L122.34,15.58 L122.24,16.27 L122.15,16.95 L122.05,17.62 L121.95,18.28 L121.85,18.93 L121.76,19.57 L121.66,20.21 L121.56,20.84 L121.46,21.46 L121.37,22.07 L121.27,22.67 L121.17,23.27 L121.08,23.87 L120.98,24.45 L120.88,25.03 L120.79,25.60 L120.69,26.16 L120.60,26.72 L120.50,27.28 L120.41,27.82 L120.31,28.36 L120.22,28.90 L120.12,29.43 L120.03,29.95 L119.93,30.47 L119.84,30.98 L119.75,31.49 L119.65,31.99 L119.56,32.49 L119.47,32.98 L119.38,33.47 L119.30,33.95 L119.21,34.43 L119.12,34.90 L119.04,35.37 L118.95,35.84 L118.86,36.30 L118.78,36.75 L118.69,37.21 L118.60,37.65 L118.52,38.10 L118.43,38.54 L118.34,38.97 L118.26,39.41 L118.17,39.83 L118.09,40.26 L118.00,40.68 L117.91,41.10 L117.83,41.51 L117.74,41.92 L117.66,42.32 L117.57,42.73 L117.49,43.13 L117.40,43.52 L117.31,43.92 L117.23,44.31 L117.14,44.69 L117.06,45.08 L116.97,45.46 L116.89,45.83 L116.80,46.21 L116.72,46.58 L116.63,46.95 L116.55,47.31 L116.46,47.68 L116.38,48.04 L116.29,48.39 L116.21,48.75 L116.12,49.10 L116.04,49.45 L115.96,49.80 L115.87,50.14 L115.79,50.48 L115.71,50.82 L115.62,51.16 L115.54,51.50 L115.46,51.83 L115.38,52.16 L115.29,52.49 L115.21,52.81 L115.13,53.14 L115.05,53.46 L114.96,53.78 L114.88,54.09 L114.80,54.41 L114.71,54.72 L114.63,55.03 L114.55,55.34 L114.47,55.65 L114.38,55.95 L114.30,56.25 L114.22,56.56 L114.14,56.85 L114.05,57.15 L113.97,57.45 L113.89,57.74 L113.81,58.03 L113.73,58.32 L113.64,58.61 L113.56,58.89 L113.48,59.18 L113.40,59.46 L113.31,59.74 L113.23,60.02 L113.14,60.30 L113.06,60.57 L112.97,60.85 L112.89,61.12 L112.81,61.39 L112.72,61.66 L112.64,61.93 L112.55,62.19 L112.47,62.46 L112.39,62.72 L112.30,62.98 L112.22,63.24 L112.13,63.50 L112.05,63.76 L111.97,64.01 L111.88,64.27 L111.80,64.52 L111.72,64.77 L111.63,65.02 L111.55,65.27 L111.46,65.52 L111.38,65.76 L111.30,66.01 L111.21,66.25 L111.13,66.50 L111.05,66.74 L110.96,66.98 L110.88,67.22 L110.80,67.45 L110.71,67.69 L110.63,67.92 L110.55,68.16 L110.46,68.39 L110.38,68.62 L110.30,68.85 L110.21,69.08 L110.13,69.31 L110.05,69.54 L109.96,69.76 L109.88,69.99 L109.80,70.21 L109.72,70.44 L109.63,70.66 L109.55,70.88 L109.47,71.10 L109.39,71.32 L109.30,71.54 L109.22,71.75 L109.14,71.97 L109.06,72.18 L108.97,72.40 L108.89,72.61 L108.81,72.82 L108.73,73.04 L108.65,73.25 L108.56,73.46 L108.48,73.66 L108.40,73.87 L108.32,74.08 L108.24,74.28 L108.15,74.49 L108.07,74.69 L107.99,74.90 L107.91,75.10 L107.83,75.30 L107.74,75.50 L107.66,75.70 L107.58,75.90 L107.51,76.08 L106.55,78.33 L105.61,80.46 L104.68,82.51 L103.75,84.48 L102.82,86.37 L101.89,88.19 L100.96,89.95 L100.04,91.66 L99.12,93.31 L98.20,94.92 L97.28,96.47 L96.36,97.99 L95.44,99.46 L94.52,100.90 L93.60,102.30 L92.68,103.66 L91.77,105.00 L90.85,106.31 L89.93,107.59 L89.02,108.85 L88.10,110.08 L87.18,111.28 L86.27,112.47 L85.35,113.63 L84.43,114.77 L83.52,115.89 L82.60,117.00 L81.68,118.09 L80.76,119.16 L79.85,120.21 L78.93,121.25 L78.01,122.28 L77.09,123.29 L76.17,124.28 L75.25,125.27 L74.33,126.24 L73.42,127.20 L72.50,128.15 L71.58,129.09 L70.66,130.02 L69.74,130.94 L68.83,131.84 L67.91,132.74 L66.99,133.63 L66.07,134.51 L65.15,135.39 L64.23,136.25 L63.31,137.11 L62.39,137.96 L61.48,138.80 L60.56,139.63 L59.64,140.46 L58.71,141.28 L57.79,142.09 L56.87,142.90 L55.95,143.70 L55.03,144.50 L54.11,145.29 L53.19,146.07 L52.27,146.85 L51.34,147.63 L50.42,148.40 L49.50,149.17 L48.58,149.93 L47.65,150.68 L46.73,151.44 L45.81,152.19 L44.88,152.93 L43.96,153.68 L43.03,154.41 L42.11,155.15 L41.18,155.89 L40.26,156.62 L39.33,157.35 L38.41,158.07 L37.48,158.80 L36.55,159.52 L35.63,160.25 L34.70,160.97 L33.77,161.69 L32.84,162.41 L31.91,163.13 L30.98,163.85 L30.05,164.58 L29.12,165.30 L28.19,166.02 L27.26,166.75 L26.32,167.48 L25.39,168.21 L24.45,168.95 L23.56,169.66 L22.71,170.29 L21.82,170.90 L20.90,171.54 L19.97,172.18 L19.05,172.81 L18.12,173.44 L17.20,174.06 L16.27,174.69Z" fill="#0000aa"/>
</g>
<g stroke="#000" stroke-opacity="0.47" stroke-width="1" fill="none">
<line x1="26.5" y1="16.6" x2="26.5" y2="378.2" stroke-opacity="0.39"/>
<line x1="19.2" y1="368.5" x2="382" y2="368.5"/>
<line x1="45.77" y1="365.8" x2="45.77" y2="368.2"/>
<line x1="65.09" y1="365.8" x2="65.09" y2="368.2"/>
<line x1="84.41" y1="365.8" x2="84.41" y2="368.2"/>
<line x1="103.73" y1="363.7" x2="103.73" y2="368.2"/>
<line x1="123.05" y1="365.8" x2="123.05" y2="368.2"/>
<line x1="142.37" y1="365.8" x2="142.37" y2="368.2"/>
<line x1="161.69" y1="365.8" x2="161.69" y2="368.2"/>
<line x1="181.01" y1="363.7" x2="181.01" y2="368.2"/>
<line x1="200.33" y1="365.8" x2="200.33" y2="368.2"/>
<line x1="219.65" y1="365.8" x2="219.65" y2="368.2"/>
<line x1="238.97" y1="365.8" x2="238.97" y2="368.2"/>
<line x1="258.29" y1="363.7" x2="258.29" y2="368.2"/>
<line x1="277.61" y1="365.8" x2="277.61" y2="368.2"/>
<line x1="296.93" y1="365.8" x2="296.93" y2="368.2"/>
<line x1="316.25" y1="365.8" x2="316.25" y2="368.2"/>
<line x1="335.57" y1="363.7" x2="335.57" y2="368.2"/>
<line x1="354.89" y1="365.8" x2="354.89" y2="368.2"/>
<line x1="374.21" y1="365.8" x2="374.21" y2="368.2"/>
<line x1="26.8" y1="330.50" x2="32.0" y2="330.50" stroke-opacity="0.42"/>
<line x1="26.8" y1="303.50" x2="32.0" y2="303.50" stroke-opacity="0.42"/>
<line x1="26.8" y1="288.50" x2="29.400000000000002" y2="288.50" stroke-opacity="0.36"/>
<line x1="26.8" y1="277.50" x2="29.400000000000002" y2="277.50" stroke-opacity="0.36"/>
<line x1="26.8" y1="268.50" x2="32.0" y2="268.50" stroke-opacity="0.42"/>
<line x1="26.8" y1="261.50" x2="29.400000000000002" y2="261.50" stroke-opacity="0.36"/>
<line x1="26.8" y1="256.50" x2="29.400000000000002" y2="256.50" stroke-opacity="0.36"/>
<line x1="26.8" y1="250.50" x2="29.400000000000002" y2="250.50" stroke-opacity="0.36"/>
<line x1="26.8" y1="246.50" x2="29.400000000000002" y2="246.50" stroke-opacity="0.36"/>
<line x1="26.8" y1="242.50" x2="32.0" y2="242.50" stroke-opacity="0.42"/>
<line x1="26.8" y1="215.50" x2="32.0" y2="215.50" stroke-opacity="0.42"/>
<line x1="26.8" y1="200.50" x2="29.400000000000002" y2="200.50" stroke-opacity="0.36"/>
<line x1="26.8" y1="189.50" x2="29.400000000000002" y2="189.50" stroke-opacity="0.36"/>
<line x1="26.8" y1="180.50" x2="32.0" y2="180.50" stroke-opacity="0.42"/>
<line x1="26.8" y1="173.50" x2="29.400000000000002" y2="173.50" stroke-opacity="0.36"/>
<line x1="26.8" y1="167.50" x2="29.400000000000002" y2="167.50" stroke-opacity="0.36"/>
<line x1="26.8" y1="162.50" x2="29.400000000000002" y2="162.50" stroke-opacity="0.36"/>
<line x1="26.8" y1="158.50" x2="29.400000000000002" y2="158.50" stroke-opacity="0.36"/>
<line x1="26.8" y1="154.50" x2="32.0" y2="154.50" stroke-opacity="0.42"/>
<line x1="26.8" y1="127.50" x2="32.0" y2="127.50" stroke-opacity="0.42"/>
<line x1="26.8" y1="112.50" x2="29.400000000000002" y2="112.50" stroke-opacity="0.36"/>
<line x1="26.8" y1="101.50" x2="29.400000000000002" y2="101.50" stroke-opacity="0.36"/>
<line x1="26.8" y1="92.50" x2="32.0" y2="92.50" stroke-opacity="0.42"/>
</g>
<line x1="371.5" y1="16.3" x2="371.5" y2="379.4" stroke="#aa0000" stroke-width="2.6" stroke-dasharray="7.8 2.42" stroke-dashoffset="6.2"/>
<line x1="255.55" y1="16.3" x2="255.55" y2="379.4" stroke="#00aa00" stroke-width="2.6" stroke-dasharray="7.8 2.42" stroke-dashoffset="6.2"/>
<line x1="133.35" y1="16.3" x2="133.35" y2="379.4" stroke="#0000aa" stroke-width="2.6" stroke-dasharray="7.8 2.42" stroke-dashoffset="6.2"/>
<rect x="139.4" y="19.25" width="228.9" height="110.6" fill="#f6f6f6" stroke="#141414" stroke-width="1.75"/>
<line x1="145.4" y1="31.3" x2="182.3" y2="31.3" stroke="#aa0000" stroke-width="2.9"/>
<line x1="145.4" y1="47.7" x2="182.3" y2="47.7" stroke="#00aa00" stroke-width="2.9"/>
<line x1="145.4" y1="64.3" x2="182.3" y2="64.3" stroke="#0000aa" stroke-width="2.9"/>
<line x1="145.4" y1="81.0" x2="182.3" y2="81.0" stroke="#aa0000" stroke-width="2.9" stroke-dasharray="15.3 13.8"/>
<line x1="145.4" y1="97.5" x2="182.3" y2="97.5" stroke="#00aa00" stroke-width="2.9" stroke-dasharray="15.3 13.8"/>
<line x1="145.4" y1="114.1" x2="182.3" y2="114.1" stroke="#0000aa" stroke-width="2.9" stroke-dasharray="15.3 13.8"/>
<g font-family="Liberation Serif, serif" fill="#000" filter="url(#gs)">
<text x="19.5" y="12.2" font-size="17" font-style="italic" text-anchor="start" textLength="12.5" lengthAdjust="spacingAndGlyphs">W</text>
<text x="33.099999999999994" y="15.9" font-size="12.5" font-style="italic" text-anchor="start">L</text>
<text x="40.5" y="12.2" font-size="17" font-style="italic" text-anchor="start" textLength="12.5" lengthAdjust="spacingAndGlyphs">W</text>
<text x="54.4" y="15.9" font-size="12.5" font-style="italic" text-anchor="start">L</text>
<text x="77.2" y="12.2" font-size="17" font-style="italic" text-anchor="start" textLength="12.5" lengthAdjust="spacingAndGlyphs">W</text>
<text x="91.2" y="15.9" font-size="12.5" font-style="italic" text-anchor="start">L</text>
<text x="98.6" y="12.2" font-size="17" font-style="italic" text-anchor="start" textLength="12.5" lengthAdjust="spacingAndGlyphs">W</text>
<text x="112.6" y="15.9" font-size="12.5" font-style="italic" text-anchor="start">L</text>
<path d="M63.3,8.1 H75.0 M71.0,5.1 Q72.3,7.5 75.4,8.1 Q72.3,8.7 71.0,11.1" fill="none" stroke="#000" stroke-width="0.85"/>
<text x="123.7" y="11.9" font-size="16.3" text-anchor="start" textLength="258" lengthAdjust="spacingAndGlyphs">cross&#8722;section(EW+quartic(&#955;) running)</text>
<text x="34.9" y="55.7" font-size="35" font-style="italic" text-anchor="start">G</text>
<text x="60.9" y="54.6" font-size="34" text-anchor="start">(</text>
<text x="75.0" y="55.7" font-size="34" font-style="italic" text-anchor="start">s</text>
<text x="87.6" y="54.6" font-size="34" text-anchor="start">)</text>
<text x="143.2" y="345.8" font-size="16.9" text-anchor="start">log</text>
<text x="165.8" y="350.2" font-size="12.6" text-anchor="start">10</text>
<text x="198.6" y="346.1" font-size="17.5" font-style="italic" text-anchor="start">s</text>
<text x="206.6" y="346.3" font-size="19" text-anchor="start">[</text>
<text x="211.2" y="345.8" font-size="16.1" text-anchor="start">GeV</text>
<text x="243.9" y="346.3" font-size="19" text-anchor="start">]</text>
<path d="M184.7,342.4 L186.3,341.3 L189.5,348.2 L197.0,332.1 L205.8,332.1" fill="none" stroke="#000" stroke-width="0.8" stroke-linejoin="miter"/>
<path d="M186.2,341.2 L189.4,348.0" fill="none" stroke="#000" stroke-width="1.5"/>
<text x="22.9" y="97.3" font-size="13.3" text-anchor="end">5.00</text>
<text x="22.9" y="132.3" font-size="13.3" text-anchor="end">2.00</text>
<text x="22.9" y="159.3" font-size="13.3" text-anchor="end">1.00</text>
<text x="22.9" y="185.3" font-size="13.3" text-anchor="end">0.50</text>
<text x="22.9" y="220.3" font-size="13.3" text-anchor="end">0.20</text>
<text x="22.9" y="247.3" font-size="13.3" text-anchor="end">0.10</text>
<text x="22.9" y="273.3" font-size="13.3" text-anchor="end">0.05</text>
<text x="22.9" y="308.3" font-size="13.3" text-anchor="end">0.02</text>
<text x="22.9" y="335.3" font-size="13.3" text-anchor="end">0.01</text>
<text x="103.7" y="383.9" font-size="13.7" text-anchor="middle">4</text>
<text x="181.0" y="383.9" font-size="13.7" text-anchor="middle">6</text>
<text x="258.3" y="383.9" font-size="13.7" text-anchor="middle">8</text>
<text x="335.6" y="383.9" font-size="13.7" text-anchor="middle">10</text>
<text x="188.6" y="37.2" font-size="14.25" font-style="italic" text-anchor="start">m</text>
<text x="198.7" y="40.400000000000006" font-size="10" font-style="italic" text-anchor="start">H</text>
<text x="209.2" y="37.2" font-size="14.25" text-anchor="start">=200GeV</text>
<text x="188.6" y="53.6" font-size="14.25" font-style="italic" text-anchor="start">m</text>
<text x="198.7" y="56.800000000000004" font-size="10" font-style="italic" text-anchor="start">H</text>
<text x="209.2" y="53.6" font-size="14.25" text-anchor="start">=250GeV</text>
<text x="188.6" y="70.2" font-size="14.25" font-style="italic" text-anchor="start">m</text>
<text x="198.7" y="73.4" font-size="10" font-style="italic" text-anchor="start">H</text>
<text x="209.2" y="70.2" font-size="14.25" text-anchor="start">=400GeV</text>
<text x="188.6" y="86.9" font-size="14.25" text-anchor="start">Landau Pole for</text>
<text x="284.6" y="86.9" font-size="14.25" font-style="italic" text-anchor="start">m</text>
<text x="294.70000000000005" y="90.10000000000001" font-size="10" font-style="italic" text-anchor="start">H</text>
<text x="305.20000000000005" y="86.9" font-size="14.25" text-anchor="start">=200GeV</text>
<text x="188.6" y="103.4" font-size="14.25" text-anchor="start">Landau Pole for</text>
<text x="284.6" y="103.4" font-size="14.25" font-style="italic" text-anchor="start">m</text>
<text x="294.70000000000005" y="106.60000000000001" font-size="10" font-style="italic" text-anchor="start">H</text>
<text x="305.20000000000005" y="103.4" font-size="14.25" text-anchor="start">=250GeV</text>
<text x="188.6" y="120.0" font-size="14.25" text-anchor="start">Landau Pole for</text>
<text x="284.6" y="120.0" font-size="14.25" font-style="italic" text-anchor="start">m</text>
<text x="294.70000000000005" y="123.2" font-size="10" font-style="italic" text-anchor="start">H</text>
<text x="305.20000000000005" y="120.0" font-size="14.25" text-anchor="start">=400GeV</text>
</g>
</svg>
</body></html>
